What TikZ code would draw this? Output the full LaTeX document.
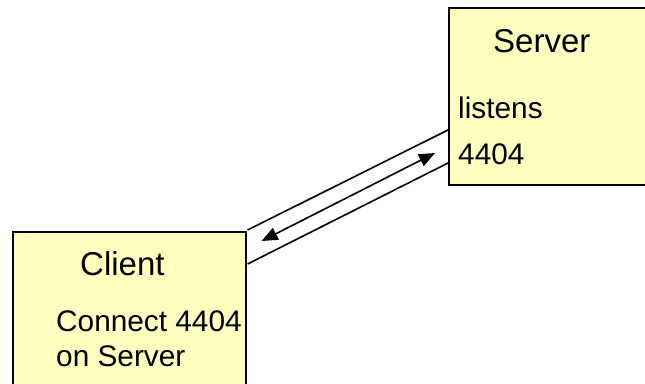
\documentclass[tikz,border=0pt]{standalone}
\usepackage{fontspec}
\setmainfont{Liberation Sans}
\usetikzlibrary{arrows.meta,calc}
\definecolor{boxfill}{HTML}{FFFFC0}
\begin{document}
\begin{tikzpicture}[x=1pt,y=-1pt,
  box/.style={draw=black,line width=1.6pt,fill=boxfill,inner sep=0pt,anchor=north west},
  title/.style={anchor=base west,inner sep=0pt,font=\fontsize{33}{38}\selectfont},
  body/.style={anchor=base west,inner sep=0pt,font=\fontsize{29.8}{35}\selectfont},
  tube/.style={line width=1.6pt},
  link/.style={line width=1.6pt,{Triangle[length=16pt,width=13pt]}-{Triangle[length=16pt,width=13pt]}}]
\useasboundingbox (0,0) rectangle (645,383);
\node (server) [box,minimum width=220pt,minimum height=177pt] at (448,7) {};
\node (client) [box,minimum width=233pt,minimum height=170pt] at (12,231) {};
\node (stitle) [title] at (493,52) {Server};
\node (sl1) [body] at (458,118) {listens};
\node (sl2) [body] at (458,164) {4404};
\node (ctitle) [title] at (80,275) {Client};
\node (cl1) [body] at (56,331) {Connect 4404};
\node (cl2) [body] at (56,366) {on Server};
\draw[tube] ($(client.north east)+(1,-1)$) -- ($(server.north west)+(0,123)$);
\draw[tube] ($(client.north east)+(1,33)$) -- ($(server.north west)+(0,156)$);
\coordinate (ca) at ($(client.north east)+(15,10)$);
\coordinate (sa) at ($(server.north west)+(-13,146)$);
\draw[link] (ca) -- (sa);
\end{tikzpicture}
\end{document}
